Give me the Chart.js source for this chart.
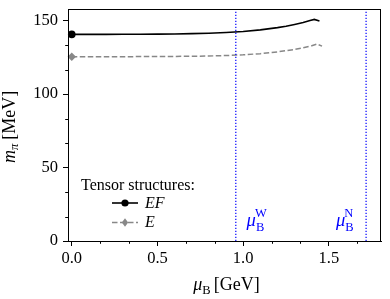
<!DOCTYPE html>
<html>
<head>
<meta charset="utf-8">
<script src="https://cdn.jsdelivr.net/npm/chart.js@4.4.1/dist/chart.umd.min.js"></script>
<style>
  html, body { margin: 0; padding: 0; background: #ffffff; }
  canvas { display: block; }
</style>
</head>
<body>
<canvas id="c" width="390" height="299"></canvas>
<script>
// ---- data ----
const muEF = [0.0, 0.1, 0.2, 0.3, 0.4, 0.5, 0.6, 0.7, 0.8, 0.9, 1.0, 1.1, 1.2, 1.25, 1.3, 1.35, 1.39, 1.415, 1.445];
const mEF  = [140.7, 140.7, 140.7, 140.8, 140.8, 140.9, 141.0, 141.2, 141.5, 142.0, 142.7, 143.8, 145.3, 146.3, 147.5, 148.8, 150.2, 150.9, 149.8];
const muE  = [0.0, 0.1, 0.2, 0.3, 0.4, 0.5, 0.6, 0.7, 0.8, 0.9, 1.0, 1.1, 1.2, 1.3, 1.35, 1.4, 1.43, 1.46];
const mE   = [125.5, 125.5, 125.5, 125.5, 125.6, 125.6, 125.7, 125.8, 126.0, 126.3, 126.8, 127.6, 128.8, 130.4, 131.6, 133.0, 134.1, 132.7];
const vlineMu = [0.957, 1.717];            // mu_B^W, mu_B^N
const vlineLabels = ['W', 'N'];
const vlineLabelMu = [1.02, 1.541];        // where the labels sit (left edge)
const xTickVals = [0.0, 0.5, 1.0, 1.5];
const xTickLabels = ['0.0', '0.5', '1.0', '1.5'];
const yTickVals = [0, 50, 100, 150];
const yTickLabels = ['0', '50', '100', '150'];
const seriesNames = ['EF', 'E'];
const legendTitle = 'Tensor structures:';
const xRange = [-0.022, 1.804];
const yRange = [0, 158];

const FONT = '"Liberation Serif", "DejaVu Serif", serif';
const BLUE = '#0000ff';

function pts(xs, ys) { return xs.map((x, i) => ({ x: x, y: ys[i] })); }

function drawRich(ctx, parts, x, y, align) {
  let w = 0;
  parts.forEach(p => {
    ctx.font = (p.italic ? 'italic ' : '') + p.size + 'px ' + FONT;
    p.w = ctx.measureText(p.t).width;
    w += p.w + (p.gap || 0);
  });
  let cx = align === 'center' ? x - w / 2 : x;
  parts.forEach(p => {
    ctx.font = (p.italic ? 'italic ' : '') + p.size + 'px ' + FONT;
    ctx.fillText(p.t, cx, y + (p.dy || 0));
    cx += p.w + (p.gap || 0);
  });
}

const extras = {
  id: 'extras',
  afterDraw(chart) {
    const ctx = chart.ctx;
    const a = chart.chartArea;
    const xs = chart.scales.x, ys = chart.scales.y;
    ctx.save();
    // frame
    ctx.strokeStyle = '#000';
    ctx.lineWidth = 1;
    ctx.strokeRect(Math.round(a.left) + 0.5, Math.round(a.top) + 0.5,
                   Math.round(a.right - a.left) - 1, Math.round(a.bottom - a.top));
    // minor ticks
    ctx.beginPath();
    for (let k = 0; k * 0.5 / 3 <= xRange[1]; k++) {
      if (k % 3 === 0) continue;
      const px = Math.round(xs.getPixelForValue(k * 0.5 / 3)) + 0.5;
      ctx.moveTo(px, a.bottom); ctx.lineTo(px, a.bottom + 2.8);
    }
    for (let k = 0; k * 50 / 3 <= yRange[1]; k++) {
      if (k % 3 === 0) continue;
      const py = Math.round(ys.getPixelForValue(k * 50 / 3)) + 0.5;
      ctx.moveTo(a.left, py); ctx.lineTo(a.left - 2.8, py);
    }
    ctx.stroke();

    ctx.fillStyle = '#000';
    ctx.textBaseline = 'alphabetic';
    ctx.textAlign = 'left';
    // x axis title
    drawRich(ctx, [
      { t: 'μ', size: 18, italic: true },
      { t: 'B', size: 12.5, dy: 3.5, gap: 3 },
      { t: '[GeV]', size: 18 }
    ], (a.left + a.right) / 2 + 2, 290, 'center');
    // y axis title
    ctx.save();
    ctx.translate(15, (a.top + a.bottom) / 2 + 2);
    ctx.rotate(-Math.PI / 2);
    drawRich(ctx, [
      { t: 'm', size: 18, italic: true },
      { t: 'π', size: 12.5, italic: true, dy: 3, gap: 4 },
      { t: '[MeV]', size: 18 }
    ], 0, 0, 'center');
    ctx.restore();

    // legend
    ctx.font = '16px ' + FONT;
    ctx.fillText(legendTitle, 81, 189.5);
    const rows = [203, 222.5];
    const base = [207.8, 227.3];
    chart.data.datasets.slice(0, 2).forEach((ds, i) => {
      const y = rows[i];
      ctx.save();
      ctx.strokeStyle = ds.borderColor;
      ctx.lineWidth = ds.borderWidth;
      ctx.setLineDash(ds.borderDash || []);
      ctx.beginPath(); ctx.moveTo(112, y); ctx.lineTo(138, y); ctx.stroke();
      ctx.setLineDash([]);
      ctx.fillStyle = ds.pointBackgroundColor;
      if (ds.pointStyle === 'rectRot') {
        const r = 4.2;
        ctx.beginPath();
        ctx.moveTo(125, y - r); ctx.lineTo(125 + r * 0.75, y); ctx.lineTo(125, y + r); ctx.lineTo(125 - r * 0.75, y);
        ctx.closePath(); ctx.fill();
      } else {
        ctx.beginPath(); ctx.arc(125, y, 3.6, 0, Math.PI * 2); ctx.fill();
      }
      ctx.restore();
      ctx.fillStyle = '#000';
      ctx.font = 'italic 16px ' + FONT;
      ctx.fillText(seriesNames[i], 145, base[i]);
    });

    // vertical line labels
    ctx.fillStyle = BLUE;
    vlineLabelMu.forEach((m, i) => {
      const x0 = xs.getPixelForValue(m);
      ctx.font = 'italic 18.5px ' + FONT;
      ctx.fillText('μ', x0, 226);
      const w = ctx.measureText('μ').width;
      ctx.font = '12.5px ' + FONT;
      ctx.fillText('B', x0 + w, 230.5);
      ctx.fillText(vlineLabels[i], x0 + w - 1, 217);
    });
    ctx.restore();
  }
};

function tickSetter(vals) {
  return function (scale) { scale.ticks = vals.map(v => ({ value: v })); };
}

const vlineSets = vlineMu.map(m => ({
  data: [{ x: m, y: yRange[0] }, { x: m, y: yRange[1] }],
  borderColor: BLUE,
  borderWidth: 1.2,
  borderDash: [1.3, 1.7],
  pointRadius: 0,
  order: 0
}));

new Chart(document.getElementById('c'), {
  type: 'line',
  data: {
    datasets: [
      {
        data: pts(muEF, mEF),
        borderColor: '#000000',
        borderWidth: 1.6,
        pointStyle: 'circle',
        pointBackgroundColor: '#000000',
        pointBorderColor: '#000000',
        pointBorderWidth: 0,
        pointRadius: c => (c.dataIndex === 0 ? 3.8 : 0),
        clip: false,
        order: 1
      },
      {
        data: pts(muE, mE),
        borderColor: '#888888',
        borderWidth: 1.5,
        borderDash: [5.5, 2.5],
        pointStyle: 'rectRot',
        pointBackgroundColor: '#888888',
        pointBorderColor: '#888888',
        pointBorderWidth: 0,
        pointRadius: c => (c.dataIndex === 0 ? 4.2 : 0),
        clip: false,
        order: 2
      },
      ...vlineSets
    ]
  },
  options: {
    responsive: false,
    animation: false,
    devicePixelRatio: 1,
    layout: { padding: { left: 0, right: 9, top: 9, bottom: 0 } },
    plugins: { legend: { display: false }, tooltip: { enabled: false }, title: { display: false } },
    elements: { line: { tension: 0, fill: false } },
    scales: {
      x: {
        type: 'linear',
        min: xRange[0], max: xRange[1],
        afterBuildTicks: tickSetter(xTickVals),
        afterFit: s => { s.height = 58; s.paddingLeft = 0; s.paddingRight = 0; },
        ticks: {
          callback: (v) => xTickLabels[xTickVals.indexOf(v)] ?? '',
          font: { family: FONT, size: 16.5 },
          color: '#000', padding: 3, maxRotation: 0, autoSkip: false
        },
        grid: { drawOnChartArea: false, drawTicks: true, tickLength: 5, tickColor: '#000', tickWidth: 1 },
        border: { display: true, color: '#000', width: 1 }
      },
      y: {
        type: 'linear',
        min: yRange[0], max: yRange[1],
        afterBuildTicks: tickSetter(yTickVals),
        afterFit: s => { s.width = 68; s.paddingTop = 0; s.paddingBottom = 0; },
        ticks: {
          callback: (v) => yTickLabels[yTickVals.indexOf(v)] ?? '',
          font: { family: FONT, size: 16.5 },
          color: '#000', padding: 5, autoSkip: false
        },
        grid: { drawOnChartArea: false, drawTicks: true, tickLength: 5, tickColor: '#000', tickWidth: 1 },
        border: { display: true, color: '#000', width: 1 }
      }
    }
  },
  plugins: [extras]
});
</script>
</body>
</html>
